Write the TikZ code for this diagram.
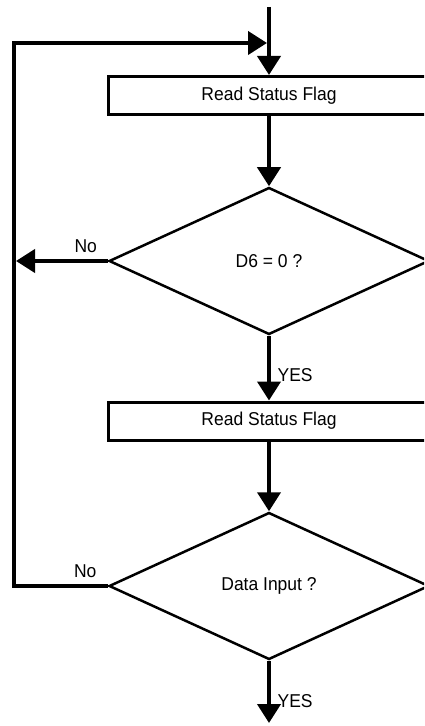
\documentclass[tikz,border=0pt]{standalone}
\usepackage{fontspec}
\setmainfont{Liberation Sans}[FakeStretch=0.94]
\usetikzlibrary{shapes.geometric,arrows.meta}
\begin{document}
\begin{tikzpicture}[x=0.5pt,y=-0.5pt,
  every node/.style={font=\fontsize{9.3pt}{10pt}\selectfont},
  flagbox/.style={draw,line width=1.5pt,minimum width=161pt,minimum height=19pt,inner sep=0pt},
  testbox/.style={draw,diamond,line width=1.25pt,minimum width=160pt,minimum height=73.5pt,inner sep=0pt},
  flow/.style={line width=2pt,-{Triangle[length=9.5pt,width=11.5pt]}}]
\useasboundingbox (0,0) rectangle (424,726);
\clip (0,0) rectangle (424,726);
\coordinate (in) at (269,7);
\coordinate (loop) at (267,43);
\node[flagbox] (read1) at (269,95.5) {Read Status Flag};
\node[testbox] (d6) at (269,261) {D6 = 0 ?};
\node[flagbox] (read2) at (269,421) {Read Status Flag};
\node[testbox] (data) at (269,586) {Data Input ?};
\coordinate (out) at (269,723);
\coordinate (back) at (16,261);
\coordinate (corner1) at (14,586);
\coordinate (corner2) at (14,43);

\draw[flow] (in)--(read1);
\draw[flow] (read1)--(d6);
\draw[flow] (d6.west)--node[pos=0.24,above]{No}(back);
\draw[flow] (d6)--node[pos=0.6,right]{YES}(read2);
\draw[flow] (read2)--(data);
\draw[flow] (data.west)--node[pos=0.24,above]{No}(corner1)--(corner2)--(loop);
\draw[flow] (data)--node[pos=0.65,right]{YES}(out);

\end{tikzpicture}
\end{document}
